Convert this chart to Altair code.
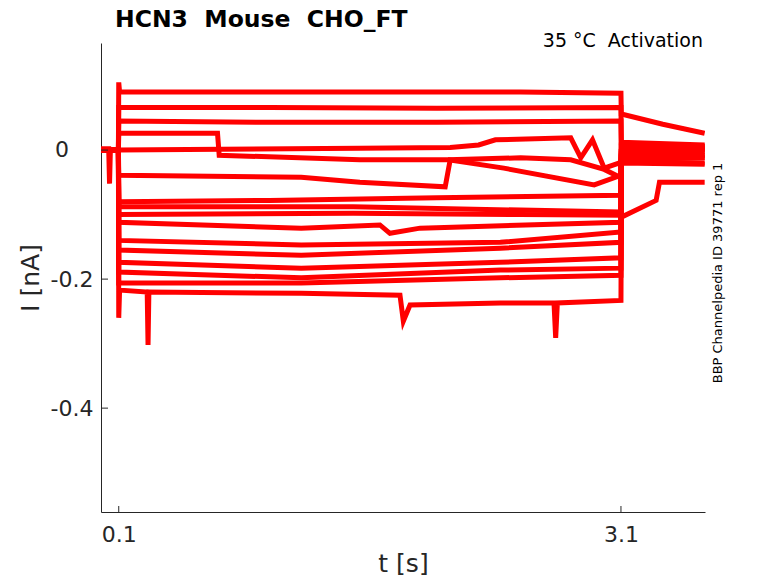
import altair as alt
import pandas as pd

# --- values (t in s, I in nA) ---
trace_01 = [(-0.006, 0.002), (0.04, 0.002), (0.045, -0.052), (0.05, 0.0), (0.098, 0.0),
            (0.1, 0.105), (0.105, 0.09), (1.5, 0.09), (2.5, 0.09), (3.1, 0.088),
            (3.102, 0.056), (3.35, 0.04), (3.6, 0.026)]
trace_02 = [(-0.006, 0.0), (0.098, 0.0), (0.1, 0.066), (1.0, 0.066), (2.0, 0.065),
            (3.1, 0.066), (3.102, 0.012), (3.6, 0.008)]
trace_03 = [(-0.006, 0.0), (0.098, 0.0), (0.1, 0.045), (1.0, 0.043), (2.0, 0.043),
            (3.1, 0.045), (3.102, 0.01), (3.6, 0.005)]
trace_04 = [(-0.006, 0.0), (0.098, 0.0), (0.1, 0.026), (0.69, 0.026), (0.70, -0.008),
            (1.54, -0.015), (2.07, -0.015), (2.4, -0.028), (2.94, -0.054), (3.1, -0.039),
            (3.102, 0.005), (3.6, 0.0)]
trace_05 = [(-0.006, 0.0), (0.098, 0.0), (0.1, 0.0), (1.54, 0.003), (2.08, 0.004),
            (2.25, 0.008), (2.35, 0.016), (2.8, 0.019), (2.86, -0.012), (2.93, 0.016),
            (3.0, -0.028), (3.1, -0.019), (3.102, -0.002), (3.6, 0.002)]
trace_06 = [(-0.006, 0.0), (0.098, 0.0), (0.1, -0.039), (1.19, -0.042), (1.54, -0.05),
            (2.05, -0.057), (2.08, -0.015), (2.5, -0.012), (2.8, -0.015), (3.0, -0.03),
            (3.1, -0.043), (3.102, -0.005), (3.6, -0.003)]
trace_07 = [(-0.006, 0.0), (0.098, 0.0), (0.1, -0.08), (1.0, -0.078), (2.0, -0.074),
            (3.1, -0.07), (3.102, -0.01), (3.6, -0.008)]
trace_08 = [(-0.006, 0.0), (0.098, 0.0), (0.1, -0.088), (1.5, -0.088), (2.5, -0.093),
            (3.1, -0.096), (3.102, -0.015), (3.6, -0.012)]
trace_09 = [(-0.006, 0.0), (0.098, 0.0), (0.1, -0.1), (1.5, -0.098), (2.5, -0.1),
            (3.1, -0.101), (3.102, 0.008), (3.6, 0.006)]
trace_10 = [(-0.006, 0.0), (0.098, 0.0), (0.1, -0.112), (1.19, -0.121), (1.66, -0.116),
            (1.72, -0.129), (1.90, -0.121), (3.1, -0.112), (3.102, -0.002), (3.6, 0.0)]
trace_11 = [(-0.006, 0.0), (0.098, 0.0), (0.1, -0.14), (1.19, -0.147), (2.38, -0.143),
            (3.1, -0.127), (3.102, 0.003), (3.6, 0.003)]
trace_12 = [(-0.006, 0.0), (0.098, 0.0), (0.1, -0.155), (1.19, -0.163), (2.38, -0.152),
            (3.1, -0.143), (3.102, -0.008), (3.6, -0.008)]
trace_13 = [(-0.006, 0.0), (0.098, 0.0), (0.1, -0.174), (1.19, -0.183), (2.38, -0.174),
            (3.1, -0.167), (3.102, -0.012), (3.6, -0.012)]
trace_14 = [(-0.006, 0.0), (0.098, 0.0), (0.1, -0.189), (1.19, -0.198), (2.38, -0.186),
            (3.1, -0.183), (3.102, -0.02), (3.6, -0.022)]
trace_15 = [(-0.006, 0.0), (0.098, 0.0), (0.1, -0.206), (1.19, -0.206), (2.38, -0.198),
            (3.1, -0.194), (3.102, -0.018), (3.6, -0.02)]
trace_16 = [(-0.006, 0.0), (0.098, 0.0), (0.1, -0.26), (0.105, -0.217), (0.27, -0.22),
            (0.275, -0.302), (0.28, -0.22), (1.19, -0.222), (1.78, -0.225), (1.80, -0.265),
            (1.84, -0.24), (2.38, -0.237), (2.70, -0.237), (2.71, -0.291), (2.72, -0.237),
            (3.1, -0.233), (3.102, -0.104), (3.31, -0.078), (3.33, -0.05), (3.6, -0.05)]

traces = [trace_01, trace_02, trace_03, trace_04, trace_05, trace_06, trace_07, trace_08,
          trace_09, trace_10, trace_11, trace_12, trace_13, trace_14, trace_15, trace_16]

x_ticks = [0.1, 3.1]
y_ticks = [-0.4, -0.2, 0]
title_text = "HCN3\u00a0\u00a0Mouse\u00a0\u00a0CHO_FT"
cond_text = "35\u00a0°C\u00a0\u00a0Activation"
side_text = "BBP Channelpedia ID 39771 rep 1"

rows = []
for k, tr in enumerate(traces):
    for j, (t, i) in enumerate(tr):
        rows.append({"trace": k, "idx": j, "t": t, "I": i})
df = pd.DataFrame(rows)

W, H = 604, 469
xs = alt.Scale(domain=[-0.006, 3.602], nice=False, zero=False)
ys = alt.Scale(domain=[-0.561, 0.166], nice=False, zero=False)
FONT = "DejaVu Sans"
AX = "#262626"

lines = alt.Chart(df).mark_line(color="#ff0000", strokeWidth=5, clip=True).encode(
    x=alt.X("t:Q", scale=xs, axis=alt.Axis(
        values=x_ticks, title="t [s]", labelExpr="'' + datum.value",
        ticks=False, grid=False, labelPadding=12, labelFontSize=22,
        titleFontSize=25, titleFontWeight="normal", titleBaseline="alphabetic",
        titleY=59)),
    y=alt.Y("I:Q", scale=ys, axis=alt.Axis(
        values=y_ticks, title="I [nA]",
        labelExpr="datum.value == 0 ? '' : '' + datum.value",
        ticks=False, grid=False, labelPadding=8, labelFontSize=22,
        titleFontSize=25, titleFontWeight="normal", titleBaseline="alphabetic",
        titleX=-63)),
    detail="trace:N",
    order="idx:Q",
)

xt = alt.Chart(pd.DataFrame({"t": x_ticks})).mark_rule(color=AX, strokeWidth=1).encode(
    x=alt.X("t:Q", scale=xs), y=alt.value(H), y2=alt.value(H - 6))
yt = alt.Chart(pd.DataFrame({"I": y_ticks})).mark_rule(color=AX, strokeWidth=1).encode(
    y=alt.Y("I:Q", scale=ys), x=alt.value(0), x2=alt.value(7))

zero_lab = alt.Chart(pd.DataFrame({"I": [0], "s": ["0"]})).mark_text(
    font=FONT, fontSize=22, color=AX, align="right", baseline="middle").encode(
    y=alt.Y("I:Q", scale=ys), x=alt.value(-32), text="s:N")

title = alt.Chart(pd.DataFrame({"s": [title_text]})).mark_text(
    font=FONT, fontSize=23.5, fontWeight="bold", color="#000000", align="left",
    baseline="alphabetic").encode(x=alt.value(14), y=alt.value(-16), text="s:N")

cond = alt.Chart(pd.DataFrame({"s": [cond_text]})).mark_text(
    font=FONT, fontSize=19, color="#000000", align="right",
    baseline="alphabetic").encode(x=alt.value(602), y=alt.value(4), text="s:N")

side = alt.Chart(pd.DataFrame({"s": [side_text]})).mark_text(
    font=FONT, fontSize=13, color="#000000", align="center", angle=270,
    baseline="alphabetic").encode(x=alt.value(621), y=alt.value(230), text="s:N")

chart = alt.layer(lines, xt, yt, zero_lab, title, cond, side).properties(
    width=W, height=H,
    padding={"left": 93, "top": 35, "right": 65, "bottom": 63},
    autosize=alt.AutoSizeParams(type="none"),
).configure_axis(
    domainColor=AX, domainWidth=1, labelFont=FONT, titleFont=FONT,
    labelColor=AX, titleColor=AX,
).configure_view(stroke=None)

chart.save("out.html", embed_options={"renderer": "svg", "actions": False})
